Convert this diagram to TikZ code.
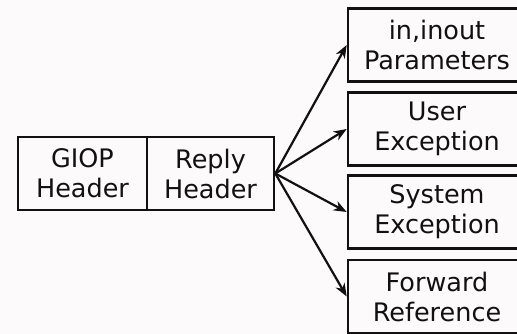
\documentclass[tikz,border=0pt]{standalone}
\usepackage{fontspec}
\setmainfont{DejaVu Sans}
\usetikzlibrary{arrows.meta}
\definecolor{paper}{RGB}{252,250,250}
\definecolor{ink}{RGB}{18,16,16}
\begin{document}
\begin{tikzpicture}[x=1pt,y=-1pt,
  field/.style={draw=ink, line width=2.6pt, inner sep=0pt, align=center,
    text=ink, font=\fontsize{25.5}{30}\selectfont},
  hdr/.style={field, minimum width=129pt, minimum height=73pt},
  body/.style={field, minimum width=178pt, minimum height=73pt},
  link/.style={draw=ink, line width=2.2pt,
    -{Stealth[length=13pt,width=10pt,inset=4pt]}}]
  \fill[paper] (0,0) rectangle (517,334);
  \useasboundingbox (0,0) rectangle (517,334);
  % message headers
  \node[hdr] (giop)  at (82.5,173.5) {GIOP\\Header};
  \node[hdr, minimum width=127pt] (reply) at (210.5,173.5) {Reply\\Header};
  % possible reply bodies
  \node[body] (params) at (437,45)    {in,inout\\Parameters};
  \node[body] (user)   at (437,129)   {User\\Exception};
  \node[body] (system) at (437,212)   {System\\Exception};
  \node[body] (fwd)    at (437,296.5) {Forward\\Reference};
  % reply header selects the body
  \foreach \t in {params,user,system,fwd}
    \draw[link] (reply.east) -- (\t.west);
\end{tikzpicture}
\end{document}
